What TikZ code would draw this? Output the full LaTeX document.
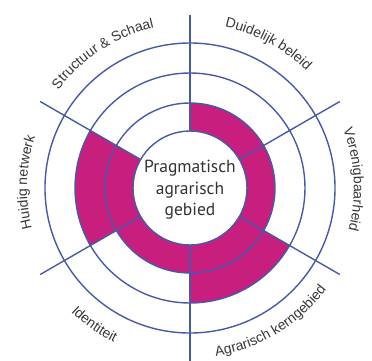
\documentclass[tikz,border=0pt]{standalone}
\usepackage{fontspec}
\setmainfont{Liberation Sans}
\newfontfamily\corefont{PT Sans}
\usetikzlibrary{decorations.text}
\definecolor{wheelblue}{RGB}{70,90,170}
\definecolor{wheelfill}{RGB}{200,30,125}
\definecolor{labelgray}{RGB}{55,55,55}
\newcommand\lblfont{\fontsize{14}{16}\selectfont}
\begin{document}
\begin{tikzpicture}[x=1pt,y=1pt,
  ring/.style={draw=wheelblue, line width=1.4pt},
  spoke/.style={draw=wheelblue, line width=1.4pt},
  seg/.style={fill=wheelfill},
  arclabel/.style={decorate, decoration={text along path, text align=center,
      text color=labelgray, text={|\lblfont|#1}}}]
\useasboundingbox (-190,-172) rectangle (182,188);

% filled ring segments (inner radius 57, outer radius per sector)
\foreach \a/\b/\r in {30/90/85, -30/30/85, -90/-30/115, -150/-90/85, 150/210/115}
  \fill[seg] (\a:57) arc[start angle=\a, end angle=\b, radius=57]
    -- (\b:\r) arc[start angle=\b, end angle=\a, radius=\r] -- cycle;

% concentric rings
\foreach \r in {57,85,115,145}
  \draw[ring] (0,0) circle[radius=\r];

% spokes between the sectors
\foreach \a in {90,30,-30,-90,-150,150}
  \draw[spoke] (\a:57) -- (\a:173);

% centre label
\node[font=\corefont\fontsize{17.5}{21.5}\selectfont, text=black!80, align=center]
  (core) at (0,-2) {Pragmatisch\\agrarisch\\gebied};

% sector labels along the outer arcs
\path[arclabel={Structuur {\&} Schaal}] (163:164) arc[start angle=163, end angle=83, radius=164];
\path[arclabel={Duidelijk beleid}] (101.5:165) arc[start angle=101.5, end angle=21.5, radius=165];
\path[arclabel={Verenigbaarheid}] (43:164) arc[start angle=43, end angle=-37, radius=164];
\path[arclabel={Huidig netwerk}] (218:163) arc[start angle=218, end angle=138, radius=163];
\path[arclabel={Identiteit}] (-165:172) arc[start angle=-165, end angle=-85, radius=172];
\path[arclabel={Agrarisch kerngebied}] (-99:170) arc[start angle=-99, end angle=-19, radius=170];
\end{tikzpicture}
\end{document}
